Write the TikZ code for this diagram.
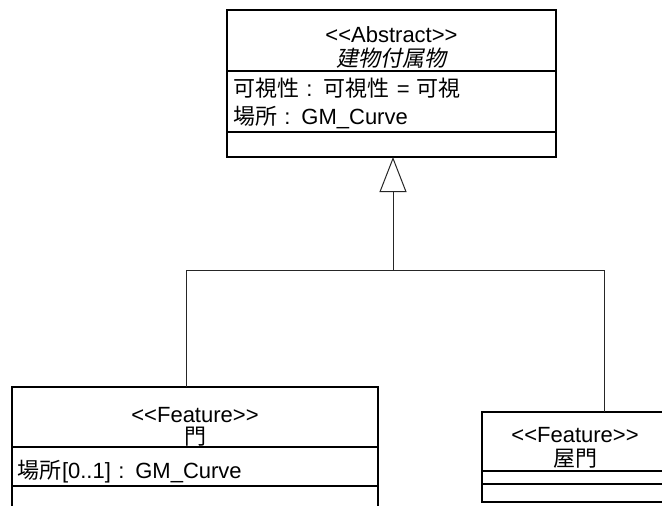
\documentclass[tikz,border=0pt]{standalone}
\usepackage{fontspec}
\setmainfont{Liberation Sans}
\newfontfamily\jp{Noto Sans CJK JP}
\newfontfamily\jpit[FakeSlant=0.2]{Noto Sans CJK JP}
\usetikzlibrary{arrows.meta}
\newcommand{\stereo}[1]{<\kern0pt<#1>\kern0pt>}

\begin{document}
\begin{tikzpicture}[
        x=0.5pt, y=-0.5pt,
        umlpart/.style={rectangle, draw=black, line width=0.6pt, anchor=north west, inner xsep=3pt, inner ysep=0pt, outer sep=0pt},
        headbox/.style={umlpart, align=center, font=\fontsize{11}{12}\selectfont},
        attrbox/.style={umlpart, align=left, font=\fontsize{11}{14}\selectfont},
        link/.style={draw=black!85, line width=0.5pt},
        inherit/.style={link, -{Triangle[open, length=17.5pt, width=13.5pt]}}
    ]
    \useasboundingbox (0,0) rectangle (662,505);

    % Abstract class
    \node[headbox, text width=158.5pt, text height=16pt, text depth=14.5pt] (abstracthead) at (227,10) {\stereo{Abstract}\\{\jpit 建物付属物}};
    \node[attrbox, text width=158.5pt, text height=12.5pt, text depth=18pt] (abstractattr) at (227,71) {{\jp 可視性} : {\jp 可視性} = {\jp 可視}\\{\jp 場所} : GM\_Curve};
    \node[attrbox, text width=158.5pt, text height=12.5pt, text depth=0pt] (abstractops) at (227,132) {};

    % Feature classes
    \node[headbox, text width=177pt, text height=17.5pt, text depth=12.5pt] (gatehead) at (12,387) {\stereo{Feature}\\[-1pt]{\jp 門}};
    \node[attrbox, text width=177pt, text height=15.5pt, text depth=4pt] (gateattr) at (12,447) {{\jp 場所}[0..1] : GM\_Curve};
    \node[attrbox, text width=177pt, text height=15pt, text depth=0pt] (gateops) at (12,486) {};

    \node[headbox, text width=87pt, text height=15pt, text depth=14.5pt] (roofgatehead) at (482,412) {\stereo{Feature}\\{\jp 屋門}};
    \node[attrbox, text width=87pt, text height=6.5pt, text depth=0pt] (roofgateattr) at (482,471) {};
    \node[attrbox, text width=87pt, text height=9pt, text depth=0pt] (roofgateops) at (482,484) {};

    % Generalization
    \coordinate (barleft) at (186,270);
    \coordinate (barright) at (604,270);
    \coordinate (barmid) at (393,270);
    \draw[link] (gatehead.north -| barleft) -- (barleft) -- (barright) -- (roofgatehead.north -| barright);
    \draw[inherit] (barmid) -- (abstractops.south -| barmid);

\end{tikzpicture}
\end{document}
